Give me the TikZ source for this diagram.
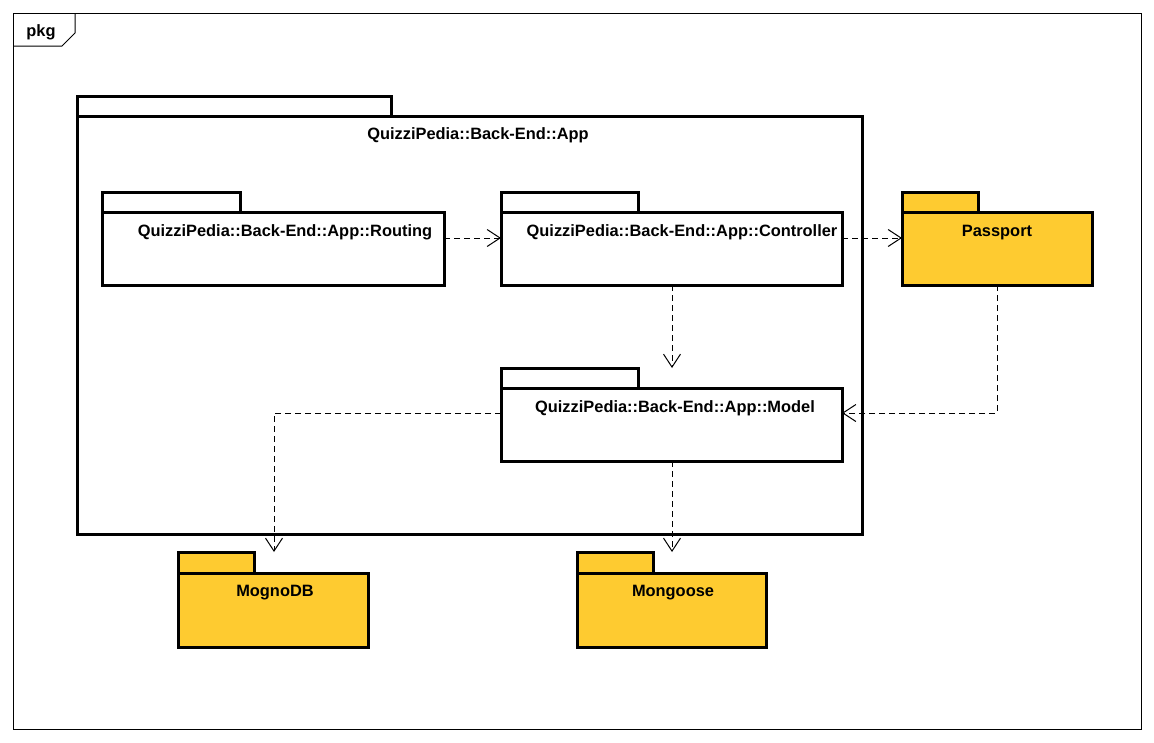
\documentclass[tikz,border=0pt]{standalone}
\usepackage{fontspec}
\setmainfont{Liberation Sans}
\usetikzlibrary{arrows.meta}
\definecolor{pkgyellow}{RGB}{254,203,48}
\tikzset{
  x=1pt,y=-1pt,
  box/.style={draw=black,line width=3pt,line join=miter},
  lbl/.style={font=\fontsize{16.4}{18}\selectfont\bfseries,inner sep=0pt,anchor=base},
  dep/.style={draw=black,line width=1pt,dash pattern=on 6pt off 4pt,-{Straight Barb[length=13pt,width=17pt,line width=1pt]}}
}
\begin{document}
\begin{tikzpicture}
\useasboundingbox (0,0) rectangle (1154,742);
% outer frame
\draw[line width=1pt] (13,13) rectangle (1141,729);
\draw[line width=1pt] (13,46) -- (62,46) -- (75,33) -- (75,13);
\node[lbl] (pkglbl) at (41,36) {pkg};
% App
\draw[box] (77,96) rectangle (391,116);
\draw[box] (77,116) rectangle (862,534);
\node[lbl] (applbl) at (478,139) {QuizziPedia::Back-End::App};
% Routing
\draw[box] (102,192) rectangle (240,212);
\draw[box] (102,212) rectangle (444,285);
\coordinate (routR) at (444,238);
\node[lbl] (routlbl) at (285,236) {QuizziPedia::Back-End::App::Routing};
% Controller
\draw[box] (501,192) rectangle (638,212);
\draw[box] (501,212) rectangle (842,285);
\coordinate (ctrlL) at (501,238);
\coordinate (ctrlR) at (842,238);
\coordinate (ctrlB) at (672,285);
\node[lbl] (ctrllbl) at (682,236) {QuizziPedia::Back-End::App::Controller};
% Model
\draw[box] (501,368) rectangle (638,388);
\draw[box] (501,388) rectangle (842,461);
\coordinate (modT) at (672,368);
\coordinate (modB) at (672,461);
\coordinate (modL) at (501,413);
\coordinate (modR) at (842,413);
\node[lbl] (modlbl) at (675,412) {QuizziPedia::Back-End::App::Model};
% Passport
\draw[box,fill=pkgyellow] (902,192) rectangle (978,212);
\draw[box,fill=pkgyellow] (902,212) rectangle (1092,285);
\coordinate (passL) at (902,238);
\coordinate (passB) at (997,285);
\node[lbl] (passlbl) at (997,236) {Passport};
% MognoDB
\draw[box,fill=pkgyellow] (178,552) rectangle (254,573);
\draw[box,fill=pkgyellow] (178,573) rectangle (368,647);
\coordinate (dbT) at (274,552);
\node[lbl] (dblbl) at (275,596) {MognoDB};
% Mongoose
\draw[box,fill=pkgyellow] (577,552) rectangle (653,573);
\draw[box,fill=pkgyellow] (577,573) rectangle (766,647);
\coordinate (mgT) at (672,552);
\node[lbl] (mglbl) at (673,596) {Mongoose};
% dependencies
\draw[dep] (routR) -- (ctrlL);
\draw[dep] (ctrlR) -- (passL);
\draw[dep] (ctrlB) -- (modT);
\draw[dep] (passB) |- (modR);
\draw[dep] (modL) -| (dbT);
\draw[dep] (modB) -- (mgT);
\end{tikzpicture}
\end{document}
